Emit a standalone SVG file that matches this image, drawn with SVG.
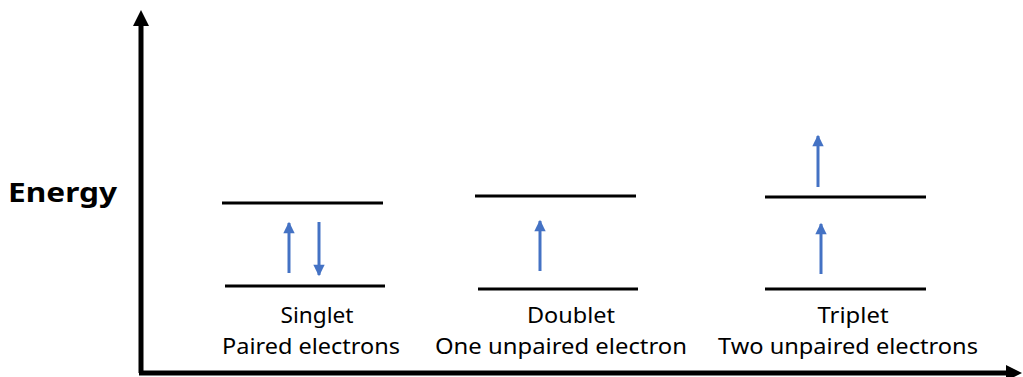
<svg xmlns="http://www.w3.org/2000/svg" width="1023" height="377" viewBox="0 0 1023 377">
<defs>
<style>
.lvl{stroke:#000;stroke-width:3;fill:none}
.e{stroke:#4472C4;stroke-width:3;fill:none}
.axis{stroke:#000;stroke-width:5;fill:none}
.t{font-family:"Noto Sans","Liberation Sans",sans-serif;font-size:22px;fill:#000;text-anchor:middle}
.lbl{font-family:"Noto Sans","Liberation Sans",sans-serif;font-size:26px;font-weight:bold;fill:#000}
</style>
<marker id="ah" viewBox="0 0 10 10" refX="9" refY="5" markerWidth="4.2" markerHeight="3.8" orient="auto" markerUnits="strokeWidth">
<path d="M0,0 L10,5 L0,10 Z" fill="#4472C4"/>
</marker>
</defs>
<rect width="1023" height="377" fill="#fff"/>
<g id="axes">
<line class="axis" x1="141" y1="373" x2="141" y2="24"/>
<path d="M141,10 L149,26 L133,26 Z" fill="#000"/>
<line class="axis" x1="139" y1="373" x2="1008" y2="373"/>
<path d="M1022,373 L1006,365 L1006,381 Z" fill="#000"/>
<text class="lbl" x="8" y="202" textLength="109" lengthAdjust="spacingAndGlyphs">Energy</text>
</g>
<g id="singlet">
<line class="lvl" x1="222" y1="203" x2="383" y2="203"/>
<line class="lvl" x1="225" y1="286" x2="385" y2="286"/>
<text class="t" x="317" y="323" textLength="73" lengthAdjust="spacingAndGlyphs">Singlet</text>
<text class="t" x="311" y="354" textLength="178" lengthAdjust="spacingAndGlyphs">Paired electrons</text>
</g>
<g id="doublet">
<line class="lvl" x1="475" y1="196" x2="636" y2="196"/>
<line class="lvl" x1="478" y1="289" x2="638" y2="289"/>
<text class="t" x="571" y="323" textLength="88" lengthAdjust="spacingAndGlyphs">Doublet</text>
<text class="t" x="561" y="354" textLength="252" lengthAdjust="spacingAndGlyphs">One unpaired electron</text>
</g>
<g id="triplet">
<line class="lvl" x1="765" y1="197" x2="926" y2="197"/>
<line class="lvl" x1="765" y1="289" x2="926" y2="289"/>
<text class="t" x="853" y="323" textLength="71" lengthAdjust="spacingAndGlyphs">Triplet</text>
<text class="t" x="848" y="354" textLength="260" lengthAdjust="spacingAndGlyphs">Two unpaired electrons</text>
</g>
<g id="connectors">
<line class="e" x1="289" y1="273" x2="289" y2="223" marker-end="url(#ah)"/>
<line class="e" x1="319" y1="222" x2="319" y2="275" marker-end="url(#ah)"/>
<line class="e" x1="540" y1="271" x2="540" y2="221" marker-end="url(#ah)"/>
<line class="e" x1="818" y1="187" x2="818" y2="136" marker-end="url(#ah)"/>
<line class="e" x1="821" y1="274" x2="821" y2="224" marker-end="url(#ah)"/>
</g>
</svg>
